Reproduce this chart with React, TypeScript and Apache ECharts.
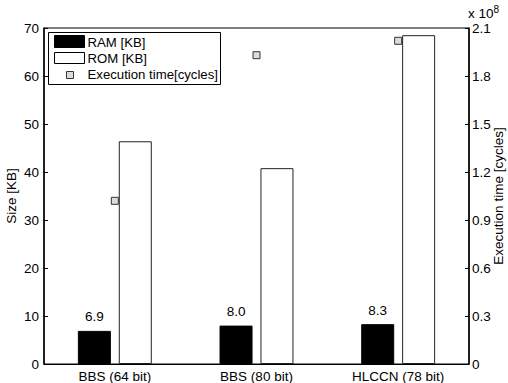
import React, { useEffect, useRef } from "react";
import * as echarts from "echarts";

const categories = ["BBS (64 bit)", "BBS (80 bit)", "HLCCN (78 bit)"];
const ramKB = [6.9, 8.0, 8.3];
const romKB = [46.4, 40.8, 68.5];
const execCycles = [1.02e8, 1.93e8, 2.02e8];
const leftTicks = { min: 0, max: 70, interval: 10 };
const rightTicks = { min: 0, max: 2.1e8, interval: 0.3e8 };

const FONT = "Liberation Sans, Arial, Helvetica, sans-serif";
const FS = 13.5;

export default function App() {
  const ref = useRef<HTMLDivElement>(null);
  useEffect(() => {
    if (!ref.current) return;
    const chart = echarts.init(ref.current, undefined, { renderer: "svg" });
    const textStyle = { fontFamily: FONT, fontSize: FS, color: "#000" };
    chart.setOption({
      animation: false,
      textStyle,
      grid: {
        left: 44,
        right: 39,
        top: 28,
        bottom: 19,
        containLabel: false,
        outerBoundsMode: "none",
        show: true,
        borderColor: "#000",
        borderWidth: 1,
        backgroundColor: "transparent",
      },
      xAxis: {
        type: "category",
        data: categories,
        axisLine: { lineStyle: { color: "#000", width: 1 } },
        axisTick: { inside: true, length: 4, alignWithLabel: true, lineStyle: { color: "#000" } },
        axisLabel: { ...textStyle, margin: 5, interval: 0 },
      },
      yAxis: [
        {
          type: "value",
          min: leftTicks.min,
          max: leftTicks.max,
          interval: leftTicks.interval,
          name: "Size [KB]",
          nameLocation: "middle",
          nameGap: 26,
          nameMoveOverlap: false,
          nameTextStyle: { ...textStyle },
          axisLine: { show: true, lineStyle: { color: "#000", width: 1.5 } },
          axisTick: { show: true, inside: true, length: 4, lineStyle: { color: "#000" } },
          axisLabel: { ...textStyle, margin: 5 },
          splitLine: { show: false },
        },
        {
          type: "value",
          position: "right",
          min: rightTicks.min,
          max: rightTicks.max,
          interval: rightTicks.interval,
          name: "Execution time [cycles]",
          nameLocation: "middle",
          nameGap: 22,
          nameMoveOverlap: false,
          nameRotate: 90,
          nameTextStyle: { ...textStyle },
          axisLine: { show: true, lineStyle: { color: "#000", width: 1.5 } },
          axisTick: { show: true, inside: true, length: 4, lineStyle: { color: "#000" } },
          axisLabel: {
            ...textStyle,
            margin: 3,
            formatter: (v: number) => {
              const s = (v / 1e8).toFixed(1);
              return s === "0.0" ? "0" : s;
            },
          },
          splitLine: { show: false },
        },
      ],
      series: [
        {
          name: "RAM [KB]",
          type: "bar",
          data: ramKB,
          barWidth: 33,
          barGap: "24%",
          itemStyle: { color: "#000", borderColor: "#000", borderWidth: 1 },
          label: {
            show: true,
            position: "top",
            distance: 7,
            ...textStyle,
            formatter: (p: any) => Number(p.value).toFixed(1),
          },
        },
        {
          name: "ROM [KB]",
          type: "bar",
          data: romKB,
          barWidth: 33,
          barGap: "24%",
          itemStyle: { color: "#fff", borderColor: "#222", borderWidth: 1 },
        },
        {
          name: "Execution time[cycles]",
          type: "scatter",
          yAxisIndex: 1,
          data: execCycles,
          symbol: "rect",
          symbolSize: 7,
          itemStyle: { color: "#dcdcdc", borderColor: "#333", borderWidth: 1, opacity: 1 },
          z: 5,
        },
      ],
      graphic: [
        {
          type: "text",
          left: 468,
          top: 4,
          style: {
            text: "x 10{s|8}",
            fontFamily: FONT,
            fontSize: FS,
            fill: "#000",
            rich: { s: { fontSize: 10, verticalAlign: "top", padding: [0, 0, 8, 0], fontFamily: FONT } },
          },
        },
        {
          type: "group",
          left: 48,
          top: 32,
          children: [
            { type: "rect", shape: { x: 0, y: 0, width: 172, height: 52 }, style: { fill: "#fff", stroke: "#000", lineWidth: 1 } },
            { type: "rect", shape: { x: 6, y: 3, width: 30, height: 12 }, style: { fill: "#000", stroke: "#000", lineWidth: 1 } },
            { type: "text", x: 39, y: 10, style: { text: "RAM [KB]", fontFamily: FONT, fontSize: 13.2, fill: "#000", verticalAlign: "middle" } },
            { type: "rect", shape: { x: 6, y: 20, width: 30, height: 11 }, style: { fill: "#fff", stroke: "#000", lineWidth: 1 } },
            { type: "text", x: 39, y: 26, style: { text: "ROM [KB]", fontFamily: FONT, fontSize: 13.2, fill: "#000", verticalAlign: "middle" } },
            { type: "rect", shape: { x: 18, y: 39, width: 7, height: 7 }, style: { fill: "#dcdcdc", stroke: "#333", lineWidth: 1 } },
            { type: "text", x: 39, y: 42, style: { text: "Execution time[cycles]", fontFamily: FONT, fontSize: 13.2, fill: "#000", verticalAlign: "middle" } },
          ],
        },
      ],
    });
    return () => chart.dispose();
  }, []);
  return <div ref={ref} style={{ width: 508, height: 383, position: "absolute", left: 0, top: 0, background: "#fff" }} />;
}
